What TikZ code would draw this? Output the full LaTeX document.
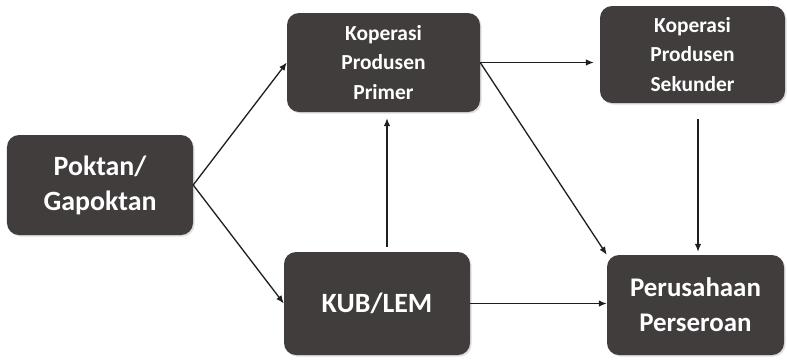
\documentclass[tikz,border=0pt]{standalone}
\usepackage{fontspec}
\setmainfont{Carlito}
\usetikzlibrary{arrows.meta,shadows}
\definecolor{boxfill}{RGB}{65,61,61}
\definecolor{linecol}{RGB}{30,30,30}
\tikzset{
  box/.style={draw=none, fill=boxfill, rounded corners=12bp, text=white,
    font=\bfseries, align=center, inner sep=0pt,
    drop shadow={opacity=0.25, shadow xshift=1.5bp, shadow yshift=-1.5bp}},
  bigtext/.style={font=\bfseries\fontsize{28}{35}\selectfont},
  smalltext/.style={font=\bfseries\fontsize{21.5}{29.5}\selectfont},
  arr/.style={draw=linecol, line width=1.3bp, -{Latex[length=8bp,width=6.5bp]}}
}
\begin{document}
\begin{tikzpicture}[x=1bp,y=-1bp]
\useasboundingbox (0,0) rectangle (787,360);
\fill[white] (0,0) rectangle (787,360);

\node[box, bigtext, minimum width=186bp, minimum height=100bp] (pok) at (100,185) {Poktan/\\Gapoktan};
\node[box, smalltext, minimum width=193bp, minimum height=99bp] (kpp) at (383.5,62.5) {Koperasi\\Produsen\\Primer};
\node[box, smalltext, minimum width=185bp, minimum height=97bp] (kps) at (692.5,54.5) {Koperasi\\Produsen\\Sekunder};
\node[box, bigtext, minimum width=186bp, minimum height=103bp] (kub) at (377,303.5) {KUB/LEM};
\node[box, font=\bfseries\fontsize{27}{35}\selectfont, minimum width=177bp, minimum height=100bp] (pp) at (695.5,305) {Perusahaan\\Perseroan};

\coordinate (vkub) at (387,0);
\coordinate (vkps) at (698,0);

\draw[arr] (pok.east) -- (kpp.west);
\draw[arr] (pok.east) -- (kub.west);
\draw[arr, shorten <=5bp, shorten >=6bp] (kub.north -| vkub) -- (kpp.south -| vkub);
\draw[arr, shorten >=6bp] (kpp.east) -- (kpp.east -| kps.west);
\draw[arr] (kpp.east) -- (pp.north west);
\draw[arr, shorten <=16bp, shorten >=3bp] (kps.south -| vkps) -- (pp.north -| vkps);
\draw[arr] (kub.east) -- (kub.east -| pp.west);
\end{tikzpicture}
\end{document}
